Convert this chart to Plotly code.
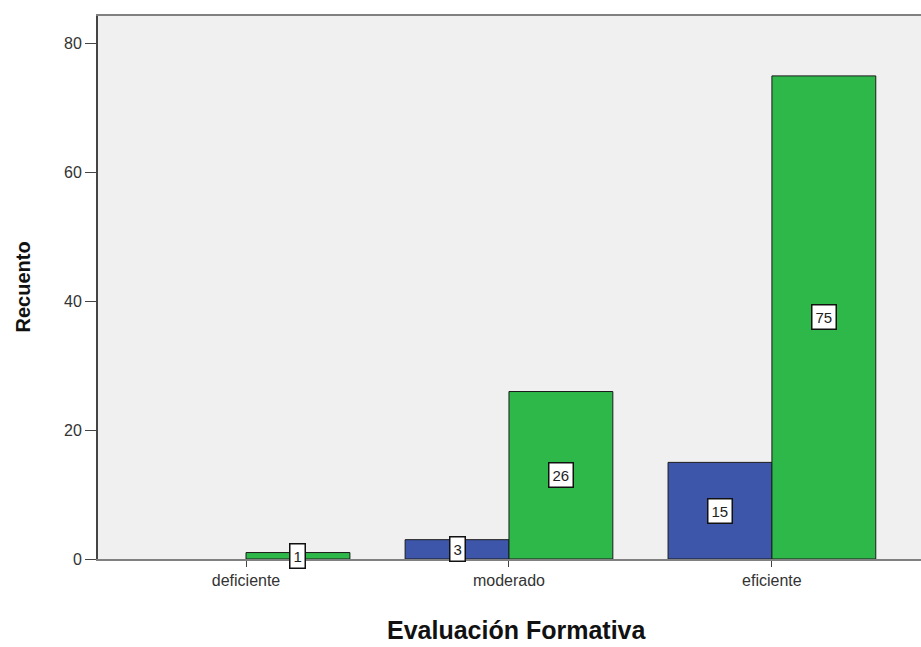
import plotly.graph_objects as go

categories = ["deficiente", "moderado", "eficiente"]
serie_azul = [0, 3, 15]
serie_verde = [1, 26, 75]
y_ticks = [0, 20, 40, 60, 80]

BLUE = "#3d56aa"
GREEN = "#2eb84a"
BAR_W = 0.395

x_idx = list(range(len(categories)))

fig = go.Figure()
fig.add_trace(go.Bar(x=x_idx, y=serie_azul, width=BAR_W, offset=-BAR_W,
                     marker=dict(color=BLUE, line=dict(color="#1a1a1a",
                                 width=[1 if v > 0 else 0 for v in serie_azul])),
                     name="azul", showlegend=False, hoverinfo="skip"))
fig.add_trace(go.Bar(x=x_idx, y=serie_verde, width=BAR_W, offset=0,
                     marker=dict(color=GREEN, line=dict(color="#1a1a1a",
                                 width=[1 if v > 0 else 0 for v in serie_verde])),
                     name="verde", showlegend=False, hoverinfo="skip"))

label_font = dict(family="Liberation Sans", size=15, color="#222")
annots = []
for i, v in enumerate(serie_azul):
    if v > 0:
        annots.append(dict(x=i - BAR_W / 2, y=v / 2, xref="x", yref="y", text=str(v),
                           showarrow=False, bgcolor="white", bordercolor="#111",
                           borderwidth=1.5, borderpad=3, font=label_font))
for i, v in enumerate(serie_verde):
    if v > 0:
        annots.append(dict(x=i + BAR_W / 2, y=v / 2, xref="x", yref="y", text=str(v),
                           showarrow=False, bgcolor="white", bordercolor="#111",
                           borderwidth=1.5, borderpad=3, font=label_font))

annots.append(dict(x=0, y=0.5, xref="paper", yref="paper", xshift=-76,
                   text="<b>Recuento</b>", textangle=-90, showarrow=False,
                   xanchor="center", yanchor="middle",
                   font=dict(family="Liberation Sans", size=20, color="#111")))
annots.append(dict(x=0.509, y=0, xref="paper", yref="paper", yshift=-86,
                   text="<b>Evaluación Formativa</b>", showarrow=False,
                   xanchor="center", yanchor="bottom", borderpad=0,
                   font=dict(family="Liberation Sans", size=25, color="#111")))

fig.update_layout(
    width=921, height=647,
    margin=dict(l=98, r=0, t=16, b=88),
    paper_bgcolor="white",
    plot_bgcolor="#f0f0f0",
    annotations=annots,
    xaxis=dict(range=[-0.563, 2.567], tickvals=x_idx, ticktext=categories,
               showgrid=False, zeroline=False, showline=True, linecolor="#808080",
               linewidth=2, mirror=True, ticks="outside", ticklen=6, tickcolor="#444",
               tickfont=dict(family="Liberation Sans", size=16, color="#333")),
    yaxis=dict(range=[0, 84.3], tickvals=y_ticks, showgrid=False, zeroline=False,
               showline=True, linecolor="#444", linewidth=2, ticks="outside",
               ticklen=11, tickcolor="#444",
               tickfont=dict(family="Liberation Sans", size=16, color="#333")),
)

fig.write_html("out.html", config={"displayModeBar": False},
               post_script="document.body.style.margin='0';document.body.style.overflow='hidden';")
